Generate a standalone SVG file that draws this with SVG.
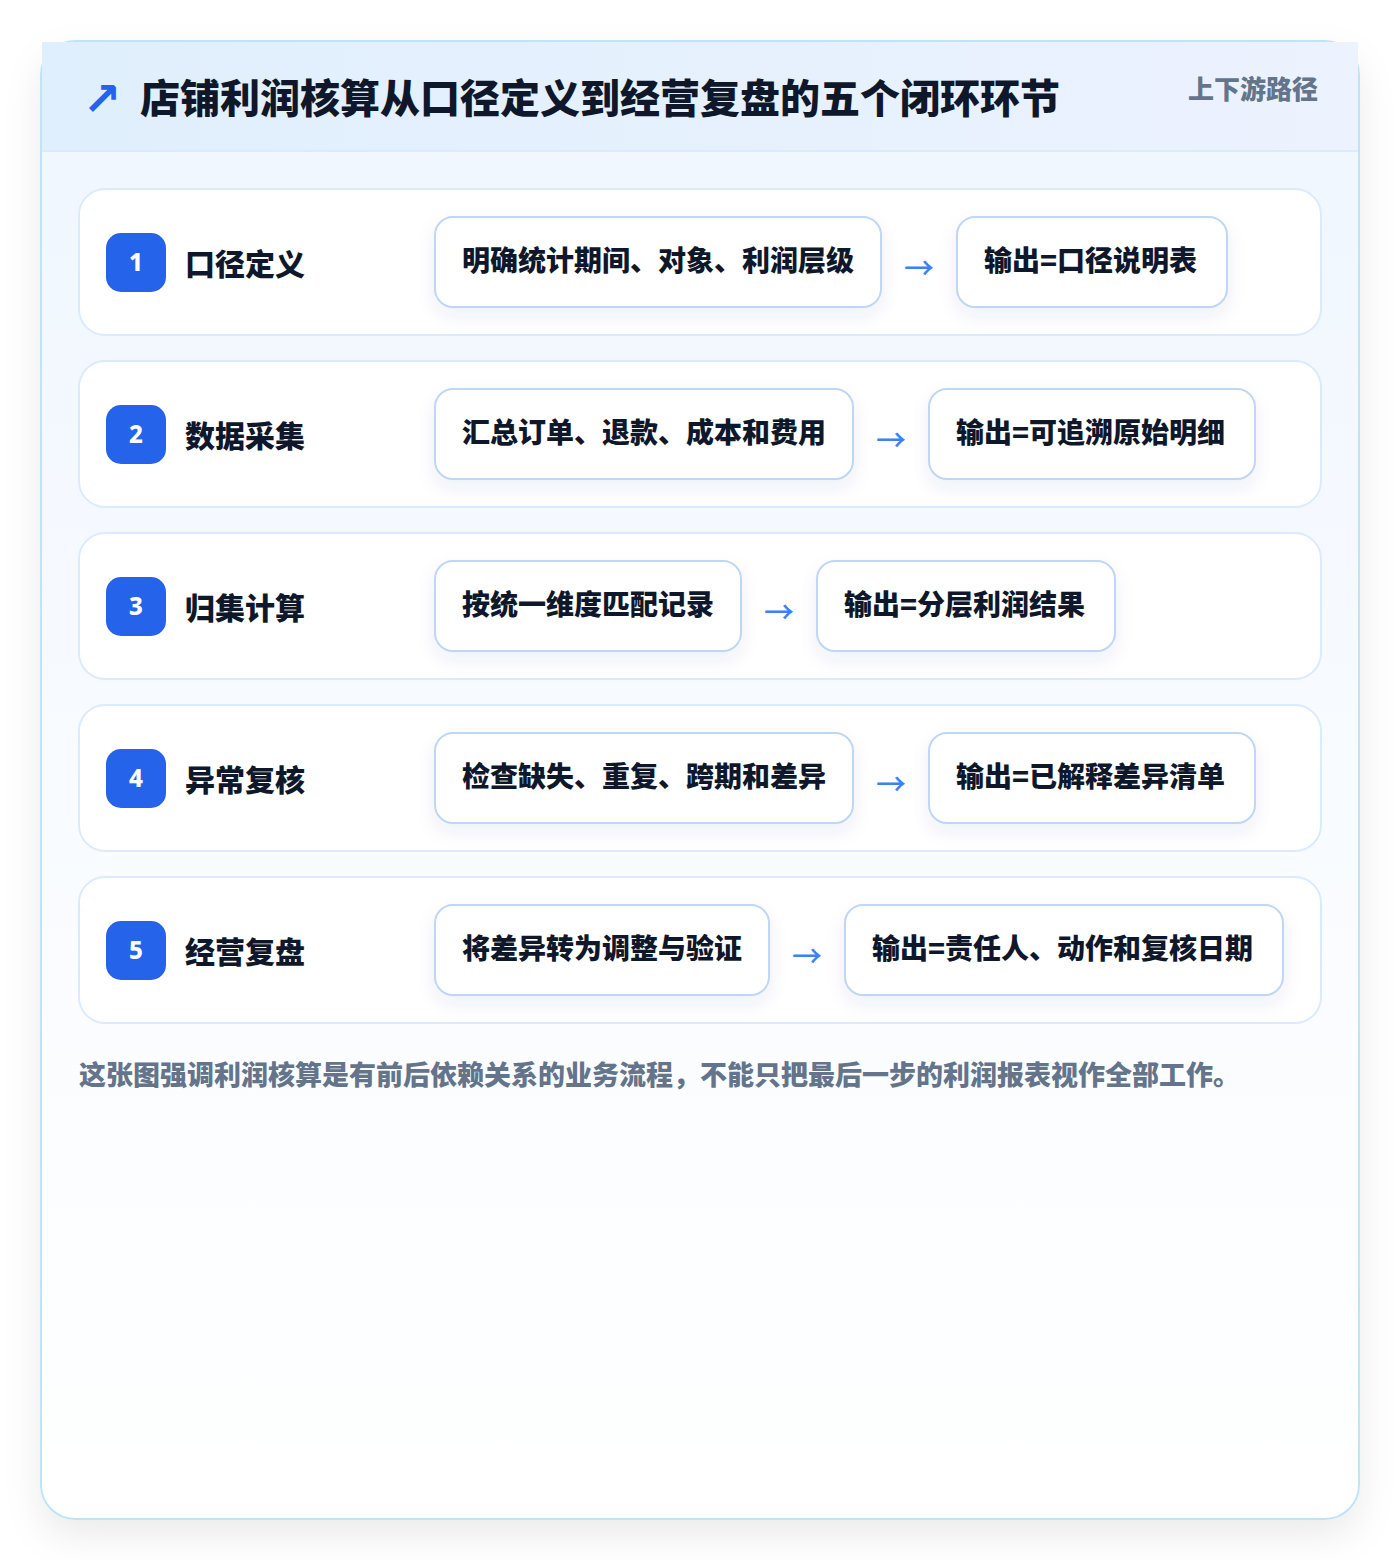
<svg xmlns="http://www.w3.org/2000/svg" width="1400" height="1560" viewBox="0 0 1400 1560">
<defs>
<linearGradient id="bodyGrad" x1="0" y1="0" x2="0" y2="1">
<stop offset="0" stop-color="#eff6ff"/>
<stop offset="0.5" stop-color="#f8fbff"/>
<stop offset="1" stop-color="#ffffff"/>
</linearGradient>
<linearGradient id="headGrad" x1="0" y1="0" x2="1" y2="0">
<stop offset="0" stop-color="#e0effd"/>
<stop offset="1" stop-color="#ecf2fe"/>
</linearGradient>
<filter id="cardShadow" x="-10%" y="-10%" width="120%" height="120%">
<feDropShadow dx="0" dy="16" stdDeviation="18" flood-color="#0f172a" flood-opacity="0.08"/>
</filter>
<filter id="pillShadow" x="-20%" y="-30%" width="140%" height="170%">
<feDropShadow dx="0" dy="8" stdDeviation="9" flood-color="#1e3a8a" flood-opacity="0.07"/>
</filter>
</defs>
<style>
.cjk{font-family:"Noto Sans CJK SC","Noto Sans",sans-serif;font-weight:800;}
.title{font-size:40px;fill:#0f172a;}
.sub{font-size:26px;fill:#64748b;}
.row{fill:#ffffff;stroke:#dbeafe;stroke-width:2;}
.badge{fill:#2563eb;}
.num{font-size:24px;fill:#ffffff;font-family:"Noto Sans","DejaVu Sans",sans-serif;font-weight:800;}
.label{font-size:30px;fill:#0f172a;}
.pill{fill:#ffffff;stroke:#bfd6f6;stroke-width:2;}
.ptext{font-size:28px;fill:#0f172a;}
.arrow{font-size:30px;fill:#3b82f6;font-family:"Noto Sans CJK SC",sans-serif;font-weight:500;}
.foot{font-size:27px;fill:#64748b;}
</style>
<rect x="0" y="0" width="1400" height="1560" fill="#ffffff"/>
<g id="card">
<rect x="41" y="41" width="1318" height="1478" rx="34" fill="url(#bodyGrad)" stroke="#bfe3f7" stroke-width="2" filter="url(#cardShadow)"/>
<rect x="42" y="42" width="1316" height="109" fill="url(#headGrad)"/>
<line x1="42" y1="151" x2="1358" y2="151" stroke="#dbeafe" stroke-width="2"/>
<text x="102" y="115" text-anchor="middle" font-family="DejaVu Sans,sans-serif" font-size="46" font-weight="700" fill="#2563eb">↗</text>
<text class="cjk title" x="140" y="113">店铺利润核算从口径定义到经营复盘的五个闭环环节</text>
<text class="cjk sub" x="1318" y="99" text-anchor="end">上下游路径</text>
</g>
<g id="step1">
<rect class="row" x="79" y="189" width="1242" height="146" rx="26"/>
<rect class="badge" x="106" y="233" width="60" height="59" rx="15"/>
<text class="num" x="136" y="271" text-anchor="middle">1</text>
<text class="cjk label" x="185" y="275">口径定义</text>
<rect class="pill" x="435" y="217" width="446" height="90" rx="18" filter="url(#pillShadow)"/>
<text class="cjk ptext" x="462" y="271">明确统计期间、对象、利润层级</text>
<rect class="pill" x="957" y="217" width="270" height="90" rx="18" filter="url(#pillShadow)"/>
<text class="cjk ptext" x="984" y="271">输出=口径说明表</text>
</g>
<g id="step2">
<rect class="row" x="79" y="361" width="1242" height="146" rx="26"/>
<rect class="badge" x="106" y="405" width="60" height="59" rx="15"/>
<text class="num" x="136" y="443" text-anchor="middle">2</text>
<text class="cjk label" x="185" y="447">数据采集</text>
<rect class="pill" x="435" y="389" width="418" height="90" rx="18" filter="url(#pillShadow)"/>
<text class="cjk ptext" x="462" y="443">汇总订单、退款、成本和费用</text>
<rect class="pill" x="929" y="389" width="326" height="90" rx="18" filter="url(#pillShadow)"/>
<text class="cjk ptext" x="956" y="443">输出=可追溯原始明细</text>
</g>
<g id="step3">
<rect class="row" x="79" y="533" width="1242" height="146" rx="26"/>
<rect class="badge" x="106" y="577" width="60" height="59" rx="15"/>
<text class="num" x="136" y="615" text-anchor="middle">3</text>
<text class="cjk label" x="185" y="619">归集计算</text>
<rect class="pill" x="435" y="561" width="306" height="90" rx="18" filter="url(#pillShadow)"/>
<text class="cjk ptext" x="462" y="615">按统一维度匹配记录</text>
<rect class="pill" x="817" y="561" width="298" height="90" rx="18" filter="url(#pillShadow)"/>
<text class="cjk ptext" x="844" y="615">输出=分层利润结果</text>
</g>
<g id="step4">
<rect class="row" x="79" y="705" width="1242" height="146" rx="26"/>
<rect class="badge" x="106" y="749" width="60" height="59" rx="15"/>
<text class="num" x="136" y="787" text-anchor="middle">4</text>
<text class="cjk label" x="185" y="791">异常复核</text>
<rect class="pill" x="435" y="733" width="418" height="90" rx="18" filter="url(#pillShadow)"/>
<text class="cjk ptext" x="462" y="787">检查缺失、重复、跨期和差异</text>
<rect class="pill" x="929" y="733" width="326" height="90" rx="18" filter="url(#pillShadow)"/>
<text class="cjk ptext" x="956" y="787">输出=已解释差异清单</text>
</g>
<g id="step5">
<rect class="row" x="79" y="877" width="1242" height="146" rx="26"/>
<rect class="badge" x="106" y="921" width="60" height="59" rx="15"/>
<text class="num" x="136" y="959" text-anchor="middle">5</text>
<text class="cjk label" x="185" y="963">经营复盘</text>
<rect class="pill" x="435" y="905" width="334" height="90" rx="18" filter="url(#pillShadow)"/>
<text class="cjk ptext" x="462" y="959">将差异转为调整与验证</text>
<rect class="pill" x="845" y="905" width="438" height="90" rx="18" filter="url(#pillShadow)"/>
<text class="cjk ptext" x="872" y="959">输出=责任人、动作和复核日期</text>
</g>
<g id="connectors">
<text class="arrow" x="919" y="279" text-anchor="middle">→</text>
<text class="arrow" x="891" y="451" text-anchor="middle">→</text>
<text class="arrow" x="779" y="623" text-anchor="middle">→</text>
<text class="arrow" x="891" y="795" text-anchor="middle">→</text>
<text class="arrow" x="807" y="967" text-anchor="middle">→</text>
</g>
<g id="footer">
<text class="cjk foot" x="79" y="1085">这张图强调利润核算是有前后依赖关系的业务流程，不能只把最后一步的利润报表视作全部工作。</text>
</g>
</svg>
